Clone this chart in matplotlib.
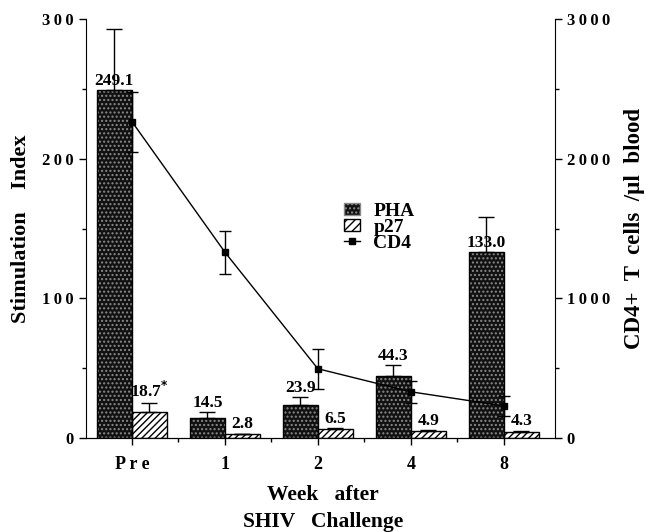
import matplotlib.pyplot as plt
from matplotlib.patches import Patch
from matplotlib.lines import Line2D
from matplotlib.ticker import FixedLocator, FuncFormatter

weeks = ["Pre", "1", "2", "4", "8"]
pha = [249.1, 14.5, 23.9, 44.3, 133.0]
pha_err = [44, 4, 5.5, 8, 25]
p27 = [18.7, 2.8, 6.5, 4.9, 4.3]
p27_err = [6.5, 0.4, 0.5, 0.5, 0.8]
p27_labels = ["18.7$^{*}$", "2.8", "6.5", "4.9", "4.3"]
cd4 = [2266, 1331, 496, 331, 230]
cd4_err = [215, 155, 145, 80, 72]

plt.rcParams["font.family"] = ["Liberation Serif", "DejaVu Serif"]
plt.rcParams["font.weight"] = "bold"
plt.rcParams["mathtext.default"] = "bf"


def spaced(v, pos):
    return "\u2009".join(str(int(v)))


fig = plt.figure(figsize=(6.46, 5.32), dpi=100)
ax = fig.add_axes([0.133, 0.1767, 0.726, 0.7873])
ax2 = ax.twinx()

x = list(range(len(weeks)))
w = 0.377

# PHA: dark stippled bars
ax.bar([i - w / 2 for i in x], pha, w, color="#111111", edgecolor="#8a8a8a",
       hatch="....", linewidth=0, zorder=2)
ax.bar([i - w / 2 for i in x], pha, w, fill=False, edgecolor="black",
       linewidth=1, zorder=3)
ax.errorbar([i - w / 2 for i in x], pha, yerr=[[0] * 5, pha_err], fmt="none",
            ecolor="black", elinewidth=1, capsize=6, zorder=4)

# p27: hatched bars
ax.bar([i + w / 2 for i in x], p27, w, color="white", edgecolor="black",
       hatch="/////", linewidth=1, zorder=2)
ax.errorbar([i + w / 2 for i in x], p27, yerr=[[0] * 5, p27_err], fmt="none",
            ecolor="black", elinewidth=1, capsize=6, zorder=4)

for i in x:
    ypha = pha[i] if pha[i] > 100 else pha[i] + pha_err[i]
    ax.annotate(f"{pha[i]:.1f}", (i - w / 2, ypha), xytext=(0, 1),
                textcoords="offset points", ha="center", va="bottom",
                fontsize=12.5, fontweight="bold", zorder=5)
    yp = p27[i] + p27_err[i]
    ax.annotate(p27_labels[i], (i + w / 2, yp), xytext=(0, 1),
                textcoords="offset points", ha="center", va="bottom",
                fontsize=12.5, fontweight="bold", zorder=5)

# CD4 line on right axis
ax2.errorbar(x, cd4, yerr=cd4_err, color="black", linewidth=1, marker="s",
             markersize=4.5, capsize=4, elinewidth=1)

ax.set_xlim(-0.495, 4.55)
ax.set_ylim(0, 300)
ax2.set_ylim(0, 3000)

ax.set_xticks(x)
ax.set_xticklabels([" ".join(s) for s in weeks])
ax.xaxis.set_minor_locator(FixedLocator([0.5, 1.5, 2.5, 3.5]))
ax.set_yticks([0, 100, 200, 300])
ax.yaxis.set_minor_locator(FixedLocator([50, 150, 250]))
ax.yaxis.set_major_formatter(FuncFormatter(spaced))
ax2.set_yticks([0, 1000, 2000, 3000])
ax2.yaxis.set_minor_locator(FixedLocator([500, 1500, 2500]))
ax2.yaxis.set_major_formatter(FuncFormatter(spaced))

for a in (ax, ax2):
    a.spines["top"].set_visible(False)
    a.tick_params(which="major", length=5, width=1, labelsize=12)
    a.tick_params(which="minor", length=3, width=1)
ax.tick_params(axis="x", pad=8, labelsize=13)
ax2.spines["left"].set_visible(False)
ax.spines["right"].set_visible(False)

ax.set_ylabel("Stimulation    Index", fontsize=16, fontweight="bold", labelpad=8)
ax2.set_ylabel("CD4+  T  cells  /\u00b5l  blood", fontsize=16.5,
               fontweight="bold", labelpad=10)

fig.text(0.5, 0.0, "Week   after\nSHIV   Challenge", ha="center", va="bottom",
         fontsize=15.5, fontweight="bold", linespacing=1.45)

handles = [
    Patch(facecolor="#111111", edgecolor="#8a8a8a", hatch="...."),
    Patch(facecolor="white", edgecolor="black", hatch="////"),
    Line2D([0], [0], color="black", marker="s", markersize=4.5, linewidth=1),
]
ax2.legend(handles, ["PHA", "p27", "CD4"], loc="upper left",
           bbox_to_anchor=(0.53, 0.585), frameon=False, fontsize=14,
           handlelength=0.8, handleheight=0.6, handletextpad=0.7,
           labelspacing=-0.05, borderpad=0)

fig.savefig("out.png", dpi=100)
